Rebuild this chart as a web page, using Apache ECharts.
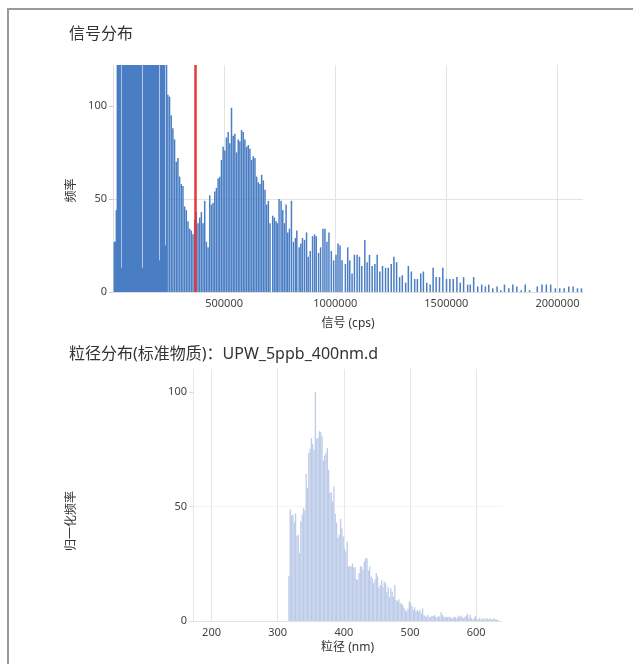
<!DOCTYPE html>
<html>
<head>
<meta charset="utf-8">
<script src="https://cdn.jsdelivr.net/npm/echarts@6/dist/echarts.min.js"></script>
<style>
  html, body { margin: 0; padding: 0; background: #fff; }
  #chart { position: absolute; left: 0; top: 0; width: 633px; height: 664px; }
  #frame {
    position: absolute; left: 7px; top: 8px; width: 700px; height: 700px;
    border-left: 2px solid #9a9a9a; border-top: 2px solid #9a9a9a;
    pointer-events: none; box-sizing: border-box;
  }
</style>
</head>
<body>
<div id="chart"></div>
<div id="frame"></div>
<script>
// ---- Signal histogram (bar positions in cps, frequency per bar) ----
const signalCps = [
  6000, 10400, 14900, 19400, 24000, 28500, 33000, 37500, 42000, 46600,
  51100, 55600, 60100, 64700, 69200, 73700, 78200, 82700, 87300, 91800,
  96300, 100800, 105300, 109900, 114400, 118900, 123400, 127900, 132500, 137000,
  141500, 146000, 150600, 155100, 159600, 164100, 168600, 173200, 177700, 182200,
  186700, 191200, 195800, 200300, 204800, 209300, 213800, 218400, 222900, 227400,
  231900, 236400, 241000,
  246960, 254500, 262030, 269570, 277100, 284640, 292170, 299700, 307240, 314780,
  322310, 329850, 337380, 344920, 352450, 359990, 367520, 375060, 382590, 390130,
  397660, 405200, 412730, 420270, 427800, 435340, 442870, 450410, 457940, 465480,
  473010, 480550, 488080, 495620, 503150, 510690, 518220, 525760, 533290, 540830,
  548360, 555900, 563430, 570970, 578500, 586040, 593570, 601110, 608640, 616180,
  623710, 631250, 638780, 646320, 653850, 661390, 668920, 676460, 683990, 691530,
  699060,
  706600, 718700, 726200, 733700, 739800, 747300, 756300, 763800, 771400, 778900,
  786400, 794000, 803000, 812100, 821100, 827200, 837700, 845300, 852800, 861800,
  870900, 878400, 887400, 898000, 907000, 914600, 925100, 934100, 944700, 953700,
  962800, 971800, 982400, 992900, 1003500, 1012500, 1021600, 1030600, 1045700, 1056200,
  1065300, 1075800, 1086400, 1098400, 1109000, 1119500, 1133100, 1143600, 1154200, 1166200,
  1178300, 1188800, 1200900, 1212900, 1226500, 1238600, 1252100, 1264200, 1276200, 1289800,
  1301900, 1316900, 1329000, 1342600, 1357600, 1369700, 1384800, 1396800, 1411900, 1427000,
  1440500, 1454100, 1469200, 1484200, 1500800, 1515900, 1531000, 1547600, 1562600, 1577700,
  1595800, 1607800, 1622900, 1641000, 1659100, 1675700, 1690700, 1708800, 1728400, 1745000,
  1761600, 1781200, 1799300, 1817300, 1836900, 1855000, 1874600, 1909300, 1930400, 1950000,
  1969600, 1990700, 2010300, 2029900, 2051000, 2070600, 2090200, 2108000
];
const signalFreq = [
  27, 27, 44, 160, 150, 170, 165, 13, 180, 175,
  190, 185, 170, 195, 180, 175, 190, 170, 185, 165,
  180, 175, 170, 160, 175, 165, 170, 155, 13, 165,
  160, 170, 150, 165, 155, 160, 150, 145, 155, 140,
  150, 145, 140, 135, 145, 17, 140, 135, 130, 138,
  132, 25, 128,
  106, 105, 95, 88, 82, 70, 72, 62, 58, 57,
  46, 44, 38, 34, 33, 31, 39, 43, 37, 40,
  43, 37, 49, 27, 24, 52, 47, 48, 54, 56,
  61, 62, 71, 78, 76, 83, 86, 80, 99, 84,
  85, 75, 82, 81, 87, 86, 82, 78, 79, 77,
  71, 73, 72, 62, 59, 58, 63, 60, 55, 47,
  49,
  37, 41, 40, 38, 37, 50, 49, 44, 37, 47,
  32, 34, 49, 27, 29, 33, 24, 26, 29, 28,
  32, 19, 22, 30, 31, 30, 21, 24, 34, 34,
  27, 32, 22, 17, 20, 26, 25, 17, 15, 24,
  17, 10, 20, 20, 19, 14, 28, 16, 20, 14,
  15, 20, 11, 14, 13, 13, 15, 19, 16, 8,
  9, 5, 14, 11, 7, 7, 10, 11, 5, 4,
  13, 8, 8, 13, 7, 7, 7, 8, 5, 8,
  4, 4, 8, 3, 4, 3, 4, 2, 3, 1,
  4, 2, 4, 3, 1, 4, 1, 3, 4, 4,
  4, 2, 2, 2, 3, 3, 2, 2
];
const thresholdCps = 368000;
const signalTicks = [500000, 1000000, 1500000, 2000000];

// ---- Particle size histogram (2 nm bins, normalised frequency) ----
const sizeNm = [
  317, 319, 321, 323, 325, 327, 329, 331, 333, 335, 337, 339, 341, 343, 345, 347,
  349, 351, 353, 355, 357, 359, 361, 363, 365, 367, 369, 371, 373, 375, 377, 379,
  381, 383, 385, 387, 389, 391, 393, 395, 397, 399, 401, 403, 405, 407, 409, 411,
  413, 415, 417, 419, 421, 423, 425, 427, 429, 431, 433, 435, 437, 439, 441, 443,
  445, 447, 449, 451, 453, 455, 457, 459, 461, 463, 465, 467, 469, 471, 473, 475,
  477, 479, 481, 483, 485, 487, 489, 491, 493, 495, 497, 499, 501, 503, 505, 507,
  509, 511, 513, 515, 517, 519, 521, 523, 525, 527, 529, 531, 533, 535, 537, 539,
  541, 543, 545, 547, 549, 551, 553, 555, 557, 559, 561, 563, 565, 567, 569, 571,
  573, 575, 577, 579, 581, 583, 585, 587, 589, 591, 593, 595, 597, 599, 601, 603,
  605, 607, 609, 611, 613, 615, 617, 619, 621, 623, 625, 627, 629, 631, 633
];
const sizeFreq = [
  19.8, 48.8, 46, 46.4, 43, 47, 37, 37.6, 29.6, 43.4, 46.4, 49.3, 48.3, 64.3, 58, 73.3,
  75.2, 79.9, 77.4, 74.8, 100, 79.6, 79.9, 82.8, 82.4, 80.6, 70, 72.2, 73.3, 75.5, 66, 56.1,
  56.1, 52.2, 58.7, 46.8, 43, 36.2, 37.6, 44.6, 40.5, 36.9, 31.8, 30.3, 34.7, 23.8, 24, 23.8,
  25, 23.3, 23.5, 18.2, 18, 21, 23.8, 23.8, 22.3, 26, 27.4, 27.4, 22, 23.8, 19.4, 18.7,
  16.5, 18, 21, 19.4, 14.3, 15.7, 18, 15, 17.2, 16.5, 12.8, 15, 10.6, 14.3, 12.8, 10.6,
  15.7, 9.2, 8.5, 9.5, 7.7, 7.7, 7, 5.8, 4.8, 4.1, 5.5, 8.5, 7.7, 6.3, 4.8, 6,
  4.1, 4.8, 4.1, 4.8, 3.4, 5.5, 2.6, 2.2, 1.6, 2.6, 1.9, 1.5, 2.2, 2.2, 2.6, 1.9,
  1.5, 2.2, 1.9, 3.8, 2.6, 1.9, 1.6, 1.9, 1.6, 1.9, 1.6, 1.2, 1.2, 1.9, 1.5, 1.2,
  2.3, 1.9, 2.3, 1.6, 1.2, 1.9, 2.3, 3.1, 1.2, 2.6, 1.2, 0.7, 1.2, 2.2, 0.7, 0.7,
  1.2, 0.7, 1.2, 0.7, 1.2, 0.7, 1.2, 0.7, 1.2, 0.7, 0.7, 1.2, 0.7, 0.7, 0.4
];
const sizeTicks = [200, 300, 400, 500, 600];
const freqTicks = [0, 50, 100];

const FONT = "'Noto Sans', 'Noto Sans CJK SC', sans-serif";
const labelStyle = { color: '#444', fontSize: 11, fontFamily: FONT };
const nameStyle = { color: '#333', fontSize: 12, fontFamily: FONT };
const plainNumber = v => String(Math.round(v));

const chart = echarts.init(document.getElementById('chart'), null, { renderer: 'canvas' });

chart.setOption({
  animation: false,
  backgroundColor: '#fff',
  textStyle: { fontFamily: FONT },
  title: [
    { text: '信号分布', left: 64, top: 21,
      textStyle: { fontSize: 16, fontWeight: 'normal', color: '#333', fontFamily: FONT } },
    { text: '粒径分布(标准物质)：UPW_5ppb_400nm.d', left: 64, top: 341,
      textStyle: { fontSize: 16, fontWeight: 'normal', color: '#333', fontFamily: FONT } }
  ],
  grid: [
    { left: 113, top: 65, width: 470, height: 227 },
    { left: 193, top: 369, width: 309, height: 252 }
  ],
  xAxis: [
    {
      gridIndex: 0, type: 'value', min: 0, max: 2115000,
      name: '信号 (cps)', nameLocation: 'middle', nameGap: 26, nameTextStyle: nameStyle,
      axisLine: { show: true, lineStyle: { color: '#ddd' } },
      axisTick: { show: false },
      axisLabel: Object.assign({ customValues: signalTicks, margin: 6, formatter: plainNumber }, labelStyle),
      splitLine: { show: true, showMinLine: false, showMaxLine: false, lineStyle: { color: '#e3e3e3' } }
    },
    {
      gridIndex: 1, type: 'value', min: 172, max: 639,
      name: '粒径 (nm)', nameLocation: 'middle', nameGap: 21, nameTextStyle: nameStyle,
      axisLine: { show: true, lineStyle: { color: '#e3e3e3' } },
      axisTick: { show: false },
      axisLabel: Object.assign({ customValues: sizeTicks, margin: 6, formatter: plainNumber }, labelStyle),
      splitLine: { show: true, showMinLine: false, showMaxLine: false, lineStyle: { color: '#e6e6e6' } }
    }
  ],
  yAxis: [
    {
      gridIndex: 0, type: 'value', min: 0, max: 122, interval: 50,
      name: '频率', nameLocation: 'middle', nameGap: 35,
      nameTextStyle: Object.assign({ padding: [0, 24, 0, 0] }, nameStyle),
      axisLine: { show: true, lineStyle: { color: '#ddd' } },
      axisTick: { show: true, length: 4, lineStyle: { color: '#ccc' }, customValues: freqTicks },
      axisLabel: Object.assign({ customValues: freqTicks, margin: 6 }, labelStyle),
      splitLine: { show: true, showMinLine: false, showMaxLine: false, lineStyle: { color: '#e3e3e3' } }
    },
    {
      gridIndex: 1, type: 'value', min: 0, max: 110, interval: 50,
      name: '归一化频率', nameLocation: 'middle', nameGap: 115,
      nameTextStyle: Object.assign({ padding: [0, 52, 0, 0] }, nameStyle),
      axisLine: { show: true, lineStyle: { color: '#e6e6e6' } },
      axisTick: { show: true, length: 4, lineStyle: { color: '#ddd' }, customValues: freqTicks },
      axisLabel: Object.assign({ customValues: freqTicks, margin: 6 }, labelStyle),
      splitLine: { show: true, showMinLine: false, showMaxLine: false, lineStyle: { color: '#f4f4f4' } }
    }
  ],
  series: [
    {
      type: 'bar', xAxisIndex: 0, yAxisIndex: 0,
      data: signalCps.map((c, i) => [c, signalFreq[i]]),
      barWidth: 1.5, clip: true,
      itemStyle: { color: '#4a7ec4' },
      silent: true,
      markLine: {
        silent: true, symbol: ['none', 'none'], label: { show: false },
        lineStyle: { color: '#e3393c', width: 2.5, type: 'solid' },
        data: [{ xAxis: thresholdCps }]
      }
    },
    {
      type: 'bar', xAxisIndex: 1, yAxisIndex: 1,
      data: sizeNm.map((s, i) => [s, sizeFreq[i]]),
      barWidth: 1.3, clip: true,
      itemStyle: { color: '#bccbe8' },
      silent: true
    }
  ]
});
</script>
</body>
</html>
